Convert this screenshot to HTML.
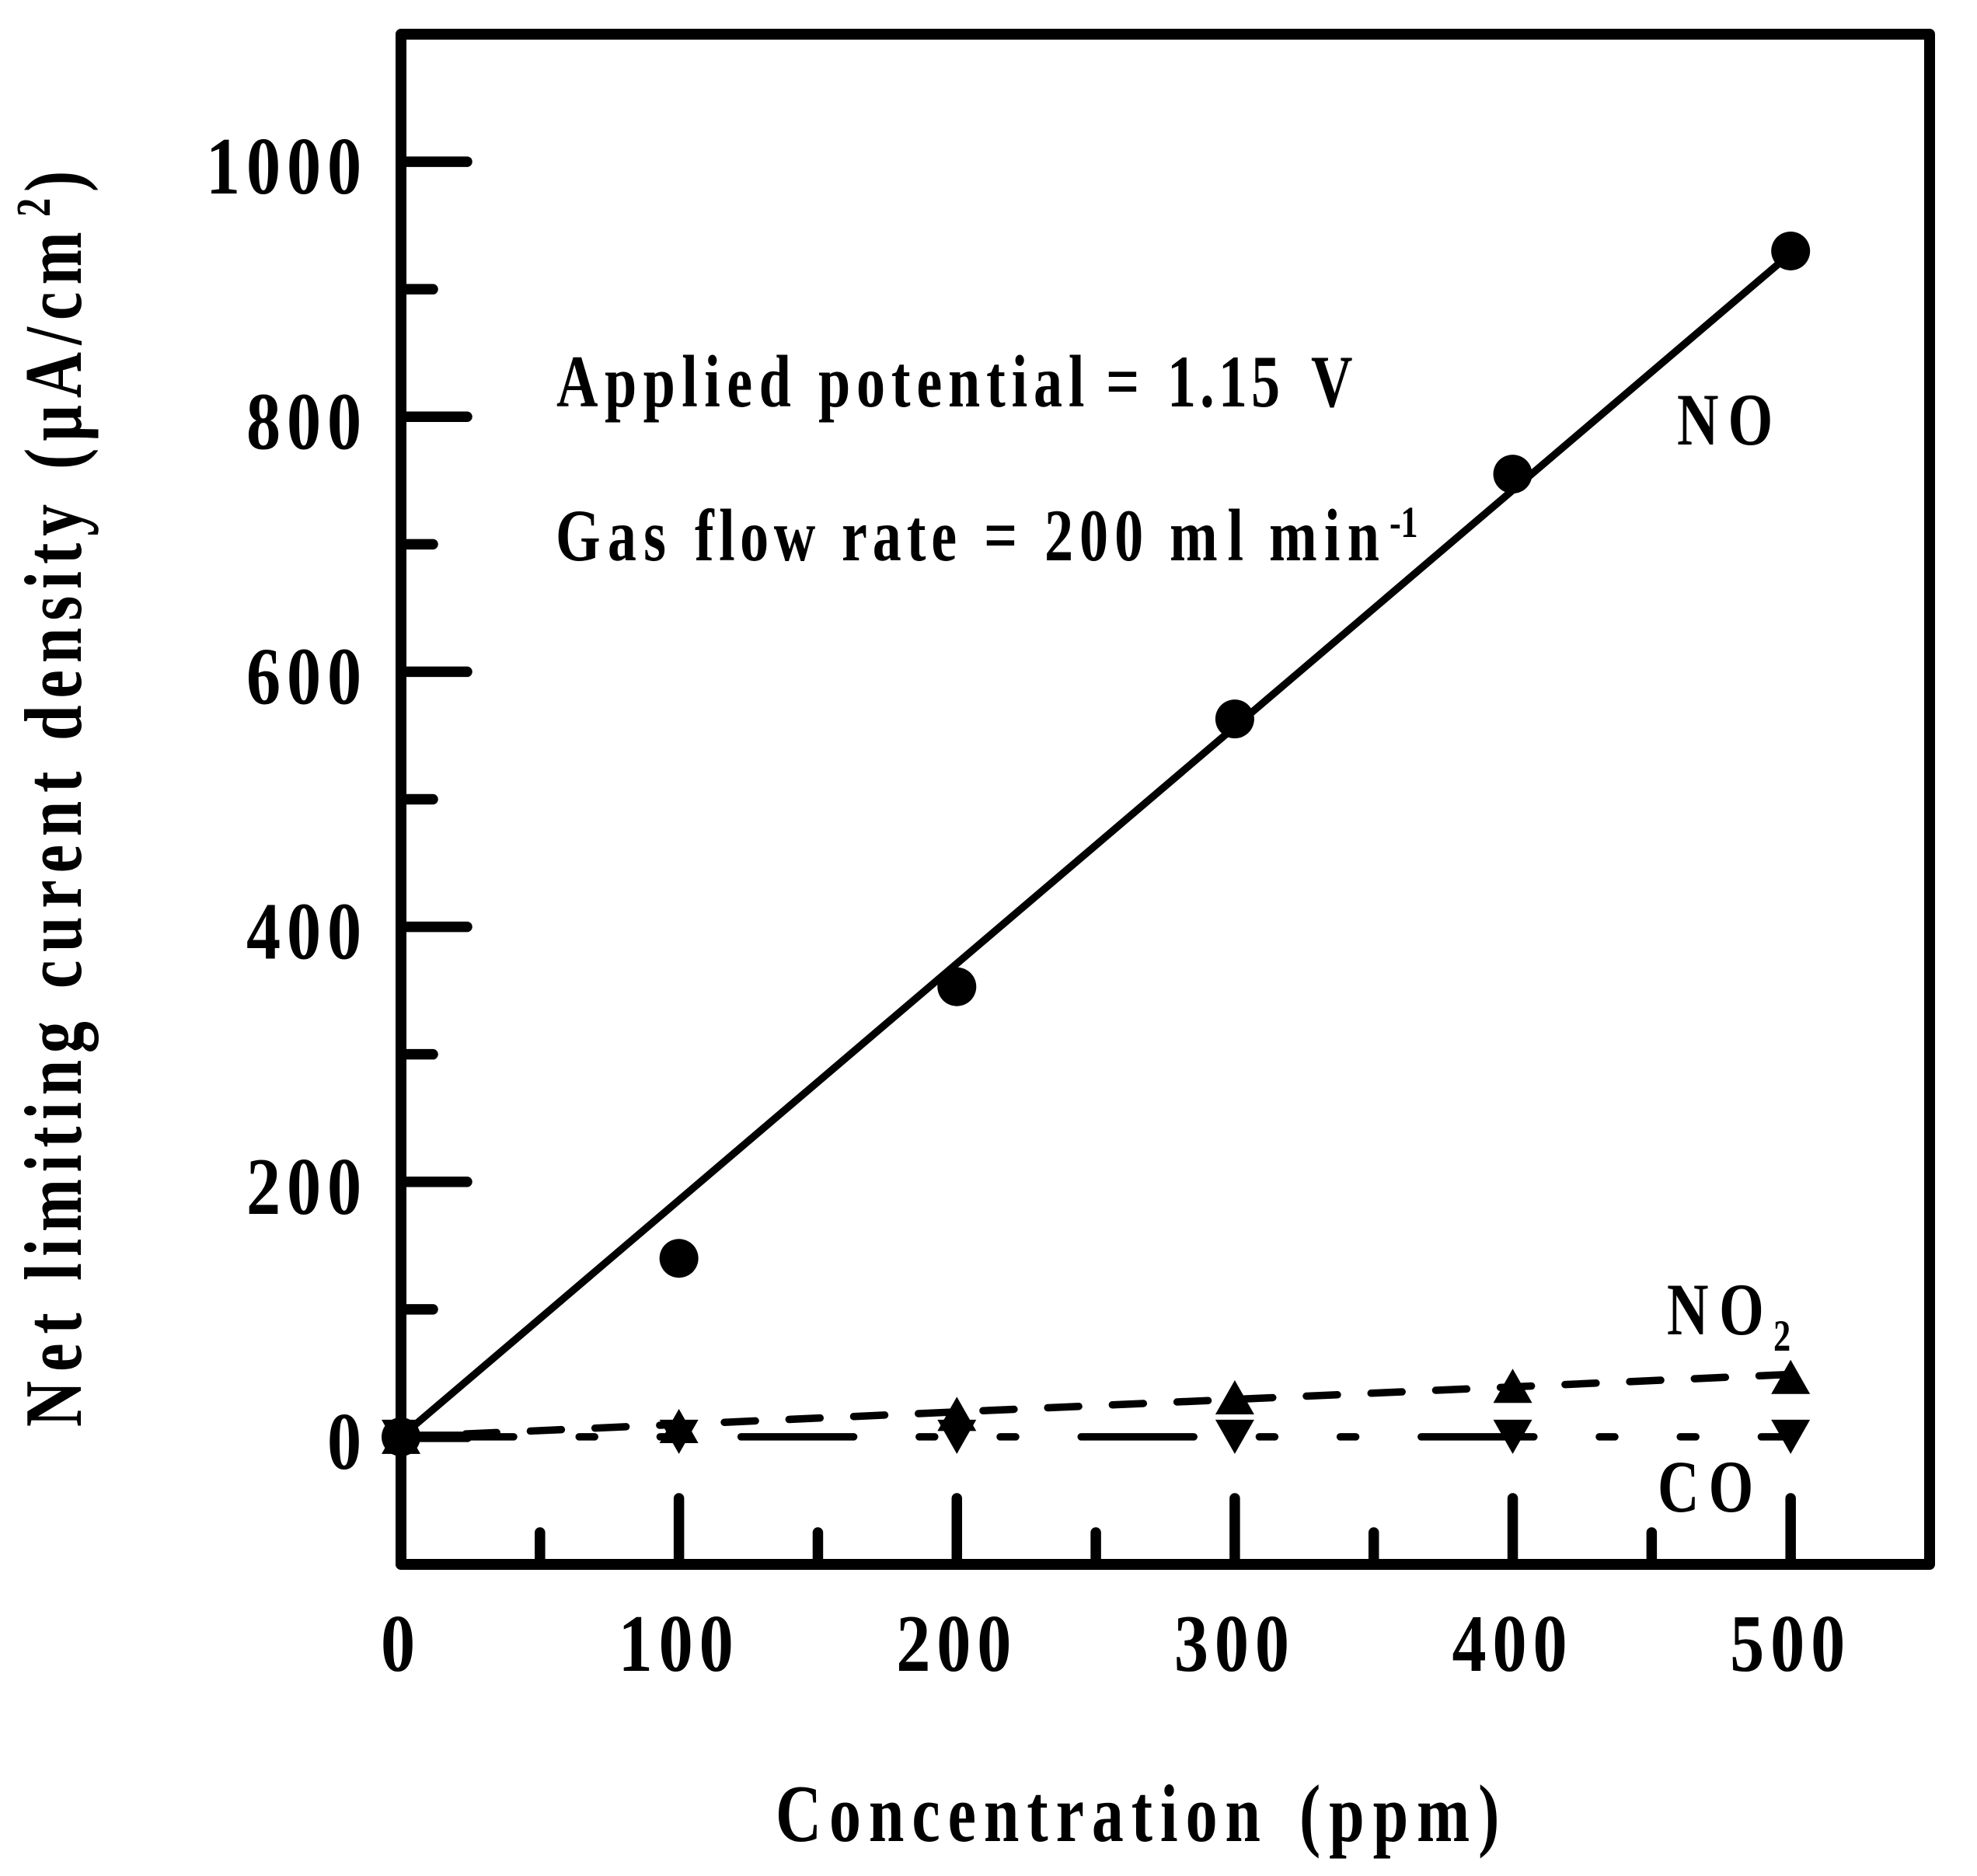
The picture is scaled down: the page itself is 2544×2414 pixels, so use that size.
<!DOCTYPE html>
<html lang="en">
<head>
<meta charset="utf-8">
<title>Net limiting current density vs concentration</title>
<style>
  html, body { margin: 0; padding: 0; background: #fff; }
  svg { display: block; }
  text { font-family: "Liberation Serif", serif; font-weight: bold; fill: #000; }
</style>
</head>
<body>
<svg id="chart" xmlns="http://www.w3.org/2000/svg" width="2544" height="2414" viewBox="0 0 2544 2414">
  <rect x="0" y="0" width="2544" height="2414" fill="#fff"/>
  <g id="plot"></g>

  <g font-size="105">
    <text transform="translate(104,1836) rotate(-90) scale(.78,1)" textLength="188">Net</text>
    <text transform="translate(104,1648) rotate(-90) scale(.78,1)" textLength="428">limiting</text>
    <text transform="translate(104,1272) rotate(-90) scale(.78,1)" textLength="358">curent</text>
    <text transform="translate(104,953) rotate(-90) scale(.78,1)" textLength="390">density</text>
    <text transform="translate(104,604) rotate(-90) scale(.78,1)" textLength="392">(μA/cm</text>
    <text transform="translate(64,279) rotate(-90) scale(.78,1)" font-size="62">2</text>
    <text transform="translate(104,247) rotate(-90) scale(.78,1)">)</text>
  </g>

  <g font-size="105">
    <text transform="translate(998,2369) scale(.78,1)" textLength="800">Concentration</text>
    <text transform="translate(1672,2369) scale(.78,1)" textLength="330">(ppm)</text>
  </g>

  <g font-size="95">
    <text transform="translate(716,523) scale(.78,1)" textLength="387">Applied</text>
    <text transform="translate(1053,523) scale(.78,1)" textLength="439">potential</text>
    <text transform="translate(1423,523) scale(.8,1)">=</text>
    <text transform="translate(1502,523) scale(.78,1)" textLength="186">1.15</text>
    <text transform="translate(1687,523) scale(.78,1)">V</text>
  </g>

  <g font-size="95">
    <text transform="translate(715,721) scale(.78,1)" textLength="182">Gas</text>
    <text transform="translate(894,721) scale(.78,1)" textLength="199">flow</text>
    <text transform="translate(1083,721) scale(.78,1)" textLength="190">rate</text>
    <text transform="translate(1266,721) scale(.8,1)">=</text>
    <text transform="translate(1344,721) scale(.78,1)" textLength="163">200</text>
    <text transform="translate(1505,721) scale(.78,1)" textLength="122">ml</text>
    <text transform="translate(1633,721) scale(.78,1)" textLength="182">min</text>
    <text transform="translate(1788,691) scale(.78,1)" font-size="57" textLength="47">-1</text>
  </g>

  <g font-size="95">
    <text transform="translate(2158,572) scale(.78,1)" textLength="158">NO</text>
    <text transform="translate(2145,1717) scale(.78,1)" textLength="160">NO</text>
    <text transform="translate(2282,1738) scale(.78,1)" font-size="57">2</text>
    <text transform="translate(2133,1945) scale(.78,1)" textLength="158">CO</text>
  </g>
</svg>

<script>
// ---- chart data ----
const xDomain = [0, 550];
const yDomain = [-100, 1100];
const xMajorTicks = [0, 100, 200, 300, 400, 500];
const xMinorTicks = [50, 150, 250, 350, 450];
const yMajorTicks = [0, 200, 400, 600, 800, 1000];
const yMinorTicks = [100, 300, 500, 700, 900];
const xTickLabels = ['0', '100', '200', '300', '400', '500'];
const yTickLabels = ['0', '200', '400', '600', '800', '1000'];
const concentrations = [0, 100, 200, 300, 400, 500];
const noValues = [0, 140, 353, 563, 755, 930];
const no2Values = [0, 8.5, 18, 31, 40, 47];
const coValues = [0, 0, 0, 0, 0, 0];
const fitEnds = [0, 500];
const noFit = [0, 928];
const no2Fit = [0, 49];
const coFit = [0, 0];

// ---- axis functions ----
const plotLeft = 516, plotRight = 2483, plotTop = 44, plotBottom = 2013;
function sx(v) { return plotLeft + (v - xDomain[0]) / (xDomain[1] - xDomain[0]) * (plotRight - plotLeft); }
function sy(v) { return plotBottom - (v - yDomain[0]) / (yDomain[1] - yDomain[0]) * (plotBottom - plotTop); }

const SVGNS = 'http://www.w3.org/2000/svg';
const plot = document.getElementById('plot');
function make(tag, attrs) {
  const el = document.createElementNS(SVGNS, tag);
  for (const k in attrs) el.setAttribute(k, attrs[k]);
  plot.appendChild(el);
  return el;
}

// ---- fit lines ----
function fitLine(values, dash) {
  const attrs = { x1: sx(fitEnds[0]), y1: sy(values[0]), x2: sx(fitEnds[1]), y2: sy(values[1]), stroke: '#000', 'stroke-width': 9.5 };
  if (dash) { attrs['stroke-dasharray'] = dash; attrs['stroke-linecap'] = 'round'; }
  return make('line', attrs);
}
const noLine = fitLine(noFit, null);


const no2Line = fitLine(no2Fit, '40 43.3');


const coLine = fitLine(coFit, '145 84.2 20 84.2 20 84.2');



// ---- ticks ----
const TICK_W = 13.5, MAJOR = 85, MINOR = 41;
yMajorTicks.forEach(function (v) {
  const t = make('line', { x1: plotLeft, y1: sy(v), x2: plotLeft + MAJOR, y2: sy(v), stroke: '#000', 'stroke-width': TICK_W, 'stroke-linecap': 'round' });
  
  
});
yMinorTicks.forEach(function (v) {
  const t = make('line', { x1: plotLeft, y1: sy(v), x2: plotLeft + MINOR, y2: sy(v), stroke: '#000', 'stroke-width': TICK_W, 'stroke-linecap': 'round' });
  
  
});
xMajorTicks.forEach(function (v) {
  const t = make('line', { x1: sx(v), y1: plotBottom, x2: sx(v), y2: plotBottom - MAJOR, stroke: '#000', 'stroke-width': TICK_W, 'stroke-linecap': 'round' });
  
  
});
xMinorTicks.forEach(function (v) {
  const t = make('line', { x1: sx(v), y1: plotBottom, x2: sx(v), y2: plotBottom - MINOR, stroke: '#000', 'stroke-width': TICK_W, 'stroke-linecap': 'round' });
  
  
});

// ---- frame ----
const frame = make('rect', { x: sx(xDomain[0]), y: sy(yDomain[1]), width: sx(xDomain[1]) - sx(xDomain[0]), height: sy(yDomain[0]) - sy(yDomain[1]), fill: 'none', stroke: '#000', 'stroke-width': 14, 'stroke-linejoin': 'round' });



// ---- tick labels ----
const DIGIT_ADV = 52, TEXT_SCALE = 0.84;
function labelText(str, leftX, baseY) {
  const el = make('text', { transform: 'translate(' + leftX + ',' + baseY + ') scale(' + TEXT_SCALE + ',1)', 'font-size': 105, 'letter-spacing': DIGIT_ADV / TEXT_SCALE - 52.5 });
  el.textContent = str;
  return el;
}
yTickLabels.forEach(function (s, i) {
  const left = 470 - s.length * DIGIT_ADV + 3;
  const el = labelText(s, left, sy(yMajorTicks[i]) + 41);
  
  
});
xTickLabels.forEach(function (s, i) {
  const left = sx(xMajorTicks[i]) - s.length * DIGIT_ADV / 2;
  const el = labelText(s, left, 2150);
  
  
});

// ---- markers ----
const TRI_W = 50, TRI_H = 44, DOT_R = 25;
function triangle(cx, cy, up) {
  const d = up ? 1 : -1;
  const pts = [[cx, cy - d * TRI_H / 2], [cx - TRI_W / 2, cy + d * TRI_H / 2], [cx + TRI_W / 2, cy + d * TRI_H / 2]];
  return make('polygon', { points: pts.map(function (p) { return p.join(','); }).join(' '), fill: '#000' });
}
concentrations.forEach(function (c, i) {
  const up = triangle(sx(c), sy(no2Values[i]), true);
  
  
  const down = triangle(sx(c), sy(coValues[i]), false);
  
  
});
concentrations.forEach(function (c, i) {
  const dot = make('circle', { cx: sx(c), cy: sy(noValues[i]), r: DOT_R, fill: '#000' });
  
  
});
</script>
</body>
</html>
